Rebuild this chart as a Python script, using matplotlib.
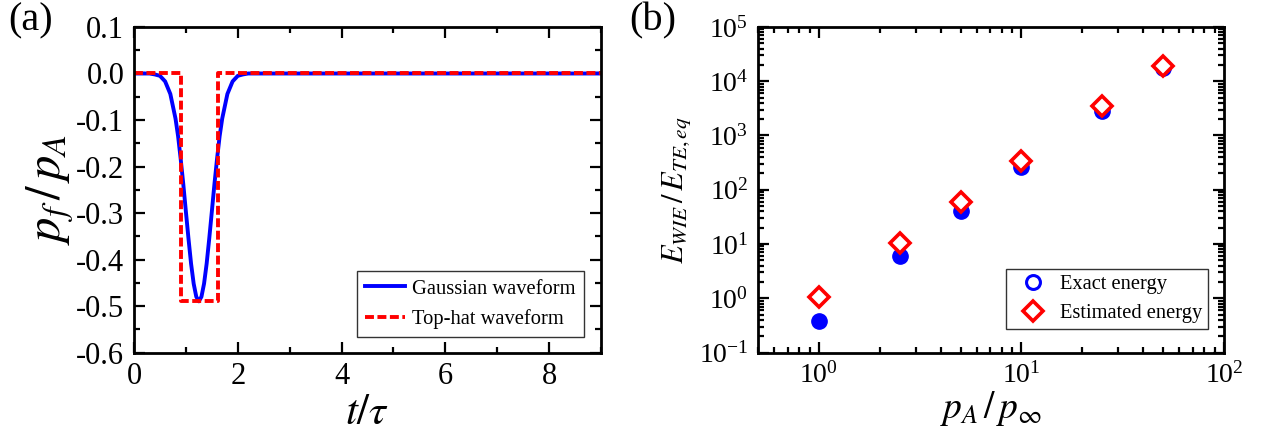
import matplotlib
matplotlib.use('Agg')
import matplotlib.pyplot as plt
import matplotlib.ticker as ticker
from matplotlib.lines import Line2D

plt.rcParams['font.family'] = ['Liberation Serif', 'DejaVu Serif']
plt.rcParams['mathtext.fontset'] = 'stix'
plt.rcParams['axes.unicode_minus'] = False

# (a) pulse shapes
t_gauss = [0.0, 0.3, 0.4, 0.5, 0.6, 0.7, 0.8, 0.85, 0.9, 0.95, 1.0, 1.05, 1.1,
           1.15, 1.2, 1.25, 1.3, 1.35, 1.4, 1.45, 1.5, 1.55, 1.6, 1.65, 1.7,
           1.8, 1.9, 2.0, 2.1, 2.2, 9.0]
p_gauss = [0.0, 0.0, -0.002, -0.005, -0.017, -0.044, -0.097, -0.135, -0.184,
           -0.238, -0.297, -0.355, -0.409, -0.452, -0.480, -0.490, -0.480,
           -0.452, -0.409, -0.355, -0.297, -0.238, -0.184, -0.135, -0.097,
           -0.044, -0.017, -0.005, -0.002, 0.0, 0.0]
t_hat = [0.0, 0.9, 0.9, 1.62, 1.62, 9.0]
p_hat = [0.0, 0.0, -0.49, -0.49, 0.0, 0.0]

# (b) energy ratio vs pressure ratio
p_ratio = [1, 2.5, 5, 10, 25, 50]
e_exact = [0.38, 5.9, 41, 268, 2860, 17700]
e_estimated = [1.06, 10.6, 60, 346, 3430, 19300]

fig = plt.figure(figsize=(12.63, 4.36), dpi=100)
W, H = 1263.0, 436.0
ax1 = fig.add_axes([134 / W, (H - 352.5) / H, 467 / W, 325.5 / H])
ax2 = fig.add_axes([758 / W, (H - 352.5) / H, 466 / W, 325.5 / H])


def style_axes(ax, size):
    for sp in ax.spines.values():
        sp.set_linewidth(2.0)
    ax.tick_params(which='both', direction='in', top=True, right=True,
                   labelsize=size, width=1.6)
    ax.tick_params(which='major', length=8, pad=7)
    ax.tick_params(which='minor', length=4)


# ---- panel (a)
ax1.plot(t_gauss, p_gauss, color='#0000ff', lw=2.8, label='Gaussian waveform')
ax1.plot(t_hat, p_hat, color='#ff0000', lw=2.8, dashes=(2.3, 0.9),
         label='Top-hat waveform')
ax1.set_xlim(0, 9)
ax1.set_ylim(-0.6, 0.1)
ax1.xaxis.set_major_locator(ticker.MultipleLocator(2))
ax1.xaxis.set_minor_locator(ticker.MultipleLocator(1))
ax1.yaxis.set_major_locator(ticker.MultipleLocator(0.1))
ax1.yaxis.set_minor_locator(ticker.MultipleLocator(0.05))
ax1.yaxis.set_major_formatter(ticker.FormatStrFormatter('%.1f'))
style_axes(ax1, 22)
ax1.set_xlabel(r'$t/\tau$', fontsize=31, labelpad=2)
ax1.set_ylabel(r'$p_f\,/\,p_A$', fontsize=35, labelpad=0)
leg1 = ax1.legend(loc='lower right', bbox_to_anchor=(0.9636, 0.0476),
                  borderaxespad=0, fontsize=14.8, frameon=True, fancybox=False,
                  edgecolor='black', handlelength=1.95, handletextpad=0.35,
                  labelspacing=0.5, borderpad=0.4)
leg1.get_frame().set_linewidth(1.0)

# ---- panel (b)
ax2.set_xscale('log')
ax2.set_yscale('log')
ax2.plot(p_ratio, e_exact, 'o', color='#0000ff', ms=11, zorder=3)
ax2.plot(p_ratio, e_estimated, 'D', mfc='white', mec='#ff0000', mew=2.6,
         ms=10, zorder=4)
ax2.set_xlim(0.5, 100)
ax2.set_ylim(0.1, 1e5)
ax2.yaxis.set_major_locator(ticker.LogLocator(base=10, numticks=10))
ax2.yaxis.set_minor_locator(ticker.LogLocator(base=10, subs=range(2, 10), numticks=20))
style_axes(ax2, 20)
ax2.set_xlabel(r'$p_A\,/\,p_\infty$', fontsize=27, labelpad=0)
ax2.set_ylabel(r'$E_{WIE}\,/\,E_{TE,eq}$', fontsize=22, labelpad=4)
handles = [Line2D([], [], marker='o', ls='none', mfc='white', mec='#0000ff',
                  mew=2.2, ms=10),
           Line2D([], [], marker='D', ls='none', mfc='white', mec='#ff0000',
                  mew=2.6, ms=10)]
leg2 = ax2.legend(handles, ['Exact energy', 'Estimated energy'], loc='lower right',
                  bbox_to_anchor=(0.9657, 0.0722), borderaxespad=0,
                  fontsize=14.8, frameon=True, fancybox=False, edgecolor='black',
                  handletextpad=0.3, labelspacing=0.45, borderpad=0.3)
leg2.get_frame().set_linewidth(1.0)

fig.text(8 / W, 1 - 2 / H, '(a)', fontsize=29, va='top')
fig.text(629 / W, 1 - 2 / H, '(b)', fontsize=29, va='top')

fig.savefig('out.png', dpi=100)
